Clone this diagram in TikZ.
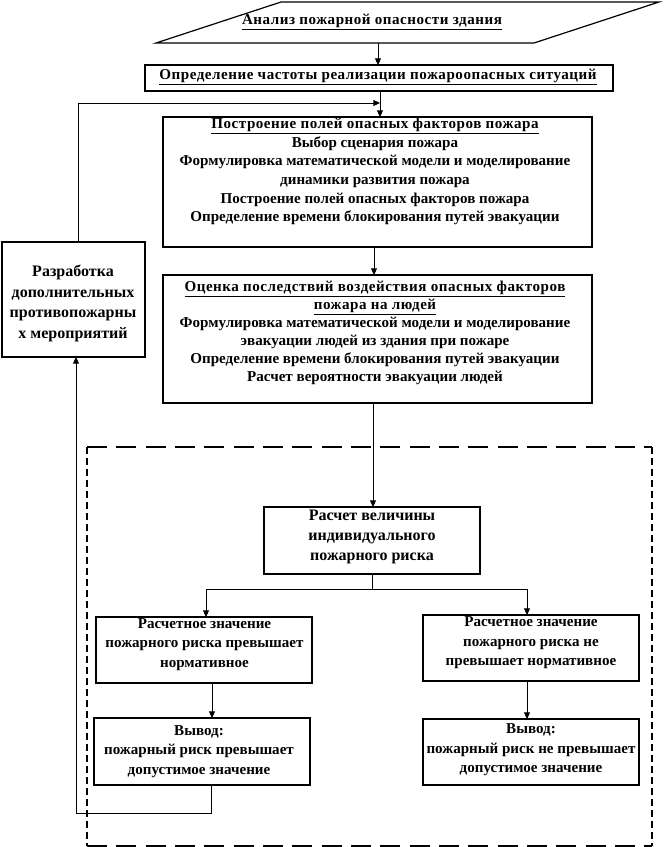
\documentclass[tikz,border=0pt]{standalone}
\usepackage{fontspec}
\setmainfont{Liberation Serif}
\usetikzlibrary{arrows.meta}
\newcommand{\ttl}[1]{{\addfontfeature{LetterSpace=3.5}\underline{#1}}}
\begin{document}
\begin{tikzpicture}[x=0.75pt,y=-0.75pt,
  box/.style={draw, line width=0.9pt, inner sep=0pt, outer sep=0pt},
  txt/.style={align=center, inner sep=0pt, font=\bfseries\fontsize{11.3}{14}\selectfont},
  txtd/.style={align=center, inner sep=0pt, font=\bfseries\fontsize{11.3}{13.6}\selectfont},
  txtb/.style={align=center, inner sep=0pt, font=\bfseries\fontsize{12}{15.3}\selectfont},
  txtc/.style={align=center, inner sep=0pt, font=\bfseries\fontsize{11.3}{14.6}\selectfont},
  arr/.style={-{Triangle[length=5pt,width=4.5pt]}, line width=0.75pt},
  ln/.style={line width=0.75pt},
  dashH/.style={line width=1.1pt, dash pattern=on 15pt off 7pt},
  dashV/.style={line width=1.8pt, dash pattern=on 5.25pt off 3pt}]
\useasboundingbox[fill=white] (0,0) rectangle (664,847);
% parallelogram
\coordinate (p1) at (281,2);
\coordinate (p2) at (659,2);
\coordinate (p3) at (534,43);
\coordinate (p4) at (156,43);
\draw[line width=0.9pt] (p1) -- (p2) -- (p3) -- (p4) -- cycle;
\node[txt] (b1t) at (372,22) {\ttl{Анализ пожарной опасности здания}};
% x positions
\coordinate (x378) at (378,0);
\coordinate (x380) at (380,0);
\coordinate (x374) at (374,0);
\coordinate (x373) at (373,0);
\coordinate (x206) at (206,0);
\coordinate (x212) at (212,0);
\coordinate (x527) at (527,0);
% boxes
\node[box, minimum width=351pt, minimum height=19.5pt] (b2) at (379,78) {};
\node[txt] (b2t) at (378,77) {\ttl{Определение частоты реализации пожароопасных ситуаций}};
\node[box, minimum width=321.75pt, minimum height=97.5pt] (b3) at (377.5,182) {};
\node[txt] (b3t) at (375,171.5) {\ttl{Построение полей опасных факторов пожара}\\
Выбор сценария пожара\\
Формулировка математической модели и моделирование\\
динамики развития пожара\\
Построение полей опасных факторов пожара\\
Определение времени блокирования путей эвакуации};
\node[box, minimum width=107.25pt, minimum height=86.25pt] (rz) at (73.5,299.5) {};
\node[txtb] (rzt) at (73,303.5) {Разработка\\ дополнительных\\ противопожарны\\ х мероприятий};
\node[box, minimum width=321.75pt, minimum height=96pt] (b4) at (377.5,339) {};
\node[txtd] (b4t) at (375,333) {\ttl{Оценка последствий воздействия опасных факторов}\\
\ttl{пожара на людей}\\
Формулировка математической модели и моделирование\\
эвакуации людей из здания при пожаре\\
Определение времени блокирования путей эвакуации\\
Расчет вероятности эвакуации людей};
\node[box, minimum width=162pt, minimum height=50.25pt] (calc) at (372,540.5) {};
\node[txtb] (calct) at (372,537) {Расчет величины\\ индивидуального\\ пожарного риска};
\node[box, minimum width=162pt, minimum height=49.5pt] (L1) at (204,650) {};
\node[txtc] (L1t) at (204.5,644.5) {Расчетное значение\\ пожарного риска превышает\\ нормативное};
\node[box, minimum width=162pt, minimum height=49.5pt] (R1) at (531,648) {};
\node[txtc] (R1t) at (531,643) {Расчетное значение\\ пожарного риска не\\ превышает нормативное};
\node[box, minimum width=162pt, minimum height=50.25pt] (L2) at (202,751.5) {};
\node[txtc] (L2t) at (199,751.5) {Вывод:\\ пожарный риск превышает\\ допустимое значение};
\node[box, minimum width=162pt, minimum height=49.5pt] (R2) at (531,752) {};
\node[txtc] (R2t) at (531,750) {Вывод:\\ пожарный риск не превышает\\ допустимое значение};
% dashed frame
\coordinate (d1) at (87,447);
\coordinate (d2) at (652,447);
\coordinate (d3) at (652,846);
\coordinate (d4) at (87,846);
\draw[dashH] (d1) -- (d2);
\draw[dashH] (d4) -- (d3);
\draw[dashV] (d1) -- (d4);
\draw[dashV] (d2) -- (d3);
% connectors
\draw[arr] (p4 -| x378) -- (b2.north -| x378);
\draw[arr] (b2.south -| x380) -- (b3.north -| x380);
\draw[arr] (b3.south -| x374) -- (b4.north -| x374);
\draw[arr] (b4.south -| x373) -- (calc.north -| x373);
\coordinate (sp) at (372,589);
\draw[ln] (calc.south) -- (sp);
\draw[arr] (sp) -| (L1.north -| x206);
\draw[arr] (sp) -| (R1.north -| x527);
\draw[arr] (L1.south -| x212) -- (L2.north -| x212);
\draw[arr] (R1.south -| x527) -- (R2.north -| x527);
% feedback
\coordinate (fb1) at (211,813);
\coordinate (fb2) at (76,813);
\draw[arr] (L2.south -| fb1) -- (fb1) -- (fb2) -- (rz.south -| fb2);
\coordinate (fb3) at (78,103);
\coordinate (fb4) at (380,103);
\draw[arr] (rz.north -| fb3) -- (fb3) -- (fb4);
\end{tikzpicture}
\end{document}
